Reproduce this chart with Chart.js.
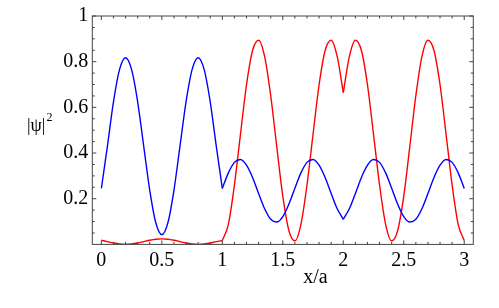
<!DOCTYPE html>
<html>
<head>
<meta charset="utf-8">
<script src="https://cdn.jsdelivr.net/npm/chart.js@4.4.0/dist/chart.umd.min.js"></script>
<style>
  html, body { margin: 0; padding: 0; background: #fff; }
  #wrap { width: 499px; height: 308px; position: relative; }
</style>
</head>
<body>
<div id="wrap"><canvas id="psiChart"></canvas></div>
<script>
// Sample positions x/a
const xPos = [0, 0.05, 0.1, 0.15, 0.2, 0.25, 0.3, 0.35, 0.4, 0.45, 0.5, 0.55, 0.6, 0.65, 0.7, 0.75, 0.8, 0.85, 0.9, 0.95,
  1, 1.05, 1.1, 1.15, 1.2, 1.25, 1.3, 1.35, 1.4, 1.45, 1.5, 1.55, 1.6, 1.65, 1.7, 1.75, 1.8, 1.85, 1.9, 1.95,
  2, 2.05, 2.1, 2.15, 2.2, 2.25, 2.3, 2.35, 2.4, 2.45, 2.5, 2.55, 2.6, 2.65, 2.7, 2.75, 2.8, 2.85, 2.9, 2.95, 3];

// |psi|^2, blue curve
const bluePsi = [0.245, 0.43, 0.624, 0.765, 0.817, 0.765, 0.624, 0.43, 0.237, 0.095, 0.043, 0.095, 0.237, 0.43, 0.624, 0.765, 0.817, 0.765, 0.624, 0.43,
  0.245, 0.313, 0.359, 0.372, 0.347, 0.293, 0.223, 0.156, 0.110, 0.098, 0.122, 0.176, 0.246, 0.313, 0.359, 0.372, 0.347, 0.293, 0.223, 0.156,
  0.110, 0.156, 0.223, 0.293, 0.347, 0.372, 0.359, 0.313, 0.246, 0.176, 0.122, 0.098, 0.110, 0.156, 0.223, 0.293, 0.347, 0.372, 0.359, 0.313, 0.245];

// |psi|^2, red curve
const redPsi = [0.018, 0.012, 0.006, 0.0016, 0, 0.0016, 0.006, 0.012, 0.018, 0.0224, 0.024, 0.0224, 0.018, 0.012, 0.006, 0.0016, 0, 0.0016, 0.006, 0.012,
  0.017, 0.088, 0.260, 0.482, 0.699, 0.849, 0.894, 0.822, 0.651, 0.428, 0.211, 0.061, 0.016, 0.088, 0.260, 0.482, 0.699, 0.849, 0.894, 0.822,
  0.665, 0.822, 0.894, 0.849, 0.699, 0.482, 0.260, 0.088, 0.016, 0.061, 0.211, 0.428, 0.651, 0.822, 0.894, 0.849, 0.699, 0.482, 0.260, 0.088, 0.017];

// Tick labels
const xTicks = [0, 0.5, 1, 1.5, 2, 2.5, 3];
const yTicks = [0.2, 0.4, 0.6, 0.8, 1];
const xMinor = [0.1, 0.2, 0.3, 0.4, 0.6, 0.7, 0.8, 0.9, 1.1, 1.2, 1.3, 1.4, 1.6, 1.7, 1.8, 1.9, 2.1, 2.2, 2.3, 2.4, 2.6, 2.7, 2.8, 2.9];
const yMinor = [0.05, 0.1, 0.15, 0.25, 0.3, 0.35, 0.45, 0.5, 0.55, 0.65, 0.7, 0.75, 0.85, 0.9, 0.95];

// cells between the delta barriers, drawn separately so the cusps stay sharp
const segments = [[0, 20], [20, 40], [40, 60]];

function buildDatasets(values, color) {
  return segments.map(([a, b]) => ({
    data: xPos.slice(a, b + 1).map((x, i) => ({ x: x, y: values[a + i] })),
    borderColor: color,
    borderWidth: 1.4,
    pointRadius: 0,
    fill: false,
    cubicInterpolationMode: 'monotone'
  }));
}

const serif = '"Liberation Serif", "DejaVu Serif", serif';

// frame with inward ticks, plus axis labels
const framePlugin = {
  id: 'frame',
  afterDraw(chart) {
    const { ctx, chartArea: ca, scales } = chart;
    const xs = scales.x, ys = scales.y;
    ctx.save();
    ctx.strokeStyle = '#444';
    ctx.lineWidth = 1;
    ctx.strokeRect(ca.left, ca.top, ca.right - ca.left, ca.bottom - ca.top);
    ctx.beginPath();
    const tickX = (v, len) => {
      const px = xs.getPixelForValue(v);
      ctx.moveTo(px, ca.bottom); ctx.lineTo(px, ca.bottom - len);
      ctx.moveTo(px, ca.top); ctx.lineTo(px, ca.top + len);
    };
    const tickY = (v, len) => {
      const py = ys.getPixelForValue(v);
      ctx.moveTo(ca.left, py); ctx.lineTo(ca.left + len, py);
      ctx.moveTo(ca.right, py); ctx.lineTo(ca.right - len, py);
    };
    xTicks.forEach(v => tickX(v, 4));
    xMinor.forEach(v => tickX(v, 2.5));
    yTicks.forEach(v => tickY(v, 4));
    yMinor.forEach(v => tickY(v, 2.5));
    ctx.stroke();

    ctx.fillStyle = '#000';
    ctx.textBaseline = 'middle';
    ctx.textAlign = 'center';
    ctx.font = '20px ' + serif;
    ctx.fillText('x/a', 315.5, 278);

    ctx.textAlign = 'left';
    ctx.font = '18px ' + serif;
    ctx.fillText('|\u03C8|', 27, 126);
    const w = ctx.measureText('|\u03C8|').width;
    ctx.font = '12px ' + serif;
    ctx.fillText('2', 27 + w + 1, 118);
    ctx.restore();
  }
};

new Chart(document.getElementById('psiChart'), {
  type: 'line',
  data: {
    datasets: [...buildDatasets(bluePsi, '#0000ff'), ...buildDatasets(redPsi, '#ff0000')]
  },
  options: {
    responsive: true,
    maintainAspectRatio: false,
    animation: false,
    layout: { autoPadding: false, padding: { left: 0, right: 25.7, top: 9.3, bottom: 0 } },
    plugins: { legend: { display: false }, tooltip: { enabled: false } },
    scales: {
      x: {
        type: 'linear',
        min: -0.075,
        max: 3.075,
        grid: { display: false, drawTicks: false, tickLength: 0 },
        border: { display: false },
        afterBuildTicks: (scale) => { scale.ticks = xTicks.map(v => ({ value: v })); },
        afterFit: (scale) => { scale.height = 63.6; },
        ticks: {
          padding: 4,
          maxRotation: 0,
          autoSkip: false,
          color: '#000',
          font: { family: serif, size: 20 },
          callback: (v) => String(v)
        }
      },
      y: {
        type: 'linear',
        min: 0,
        max: 1,
        grid: { display: false, drawTicks: false, tickLength: 0 },
        border: { display: false },
        afterBuildTicks: (scale) => { scale.ticks = yTicks.map(v => ({ value: v })); },
        afterFit: (scale) => { scale.width = 92.3; },
        ticks: {
          padding: 4,
          autoSkip: false,
          color: '#000',
          font: { family: serif, size: 20 },
          callback: (v) => String(v)
        }
      }
    }
  },
  plugins: [framePlugin]
});
</script>
</body>
</html>
